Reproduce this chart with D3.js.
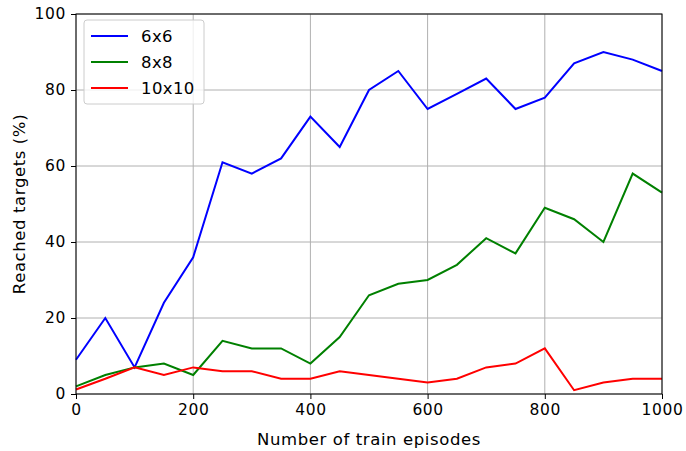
<!DOCTYPE html>
<html>
<head>
<meta charset="utf-8">
<script src="https://cdn.jsdelivr.net/npm/d3@7"></script>
<style>
body { margin: 0; background: #fff; }
svg { font-family: "DejaVu Sans", sans-serif; }
</style>
</head>
<body>
<svg></svg>
<script>
var episodes = [0, 50, 100, 150, 200, 250, 300, 350, 400, 450, 500, 550, 600, 650, 700, 750, 800, 850, 900, 950, 1000];
var grid6 = [9, 20, 7, 24, 36, 61, 58, 62, 73, 65, 80, 85, 75, 79, 83, 75, 78, 87, 90, 88, 85];
var grid8 = [2, 5, 7, 8, 5, 14, 12, 12, 8, 15, 26, 29, 30, 34, 41, 37, 49, 46, 40, 58, 53];
var grid10 = [1.2, 4, 7, 5, 7, 6, 6, 4, 4, 6, 5, 4, 3, 4, 7, 8, 12, 1, 3, 4, 4];
var seriesNames = ["6x6", "8x8", "10x10"];
var xTicks = [0, 200, 400, 600, 800, 1000];
var yTicks = [0, 20, 40, 60, 80, 100];

var screen = {width: 686, height: 451};
var margins = {top: 14, right: 24, bottom: 57, left: 76};
var width = screen.width - margins.left - margins.right;
var height = screen.height - margins.top - margins.bottom;

var series = [
    {name: seriesNames[0], values: grid6, color: "#0000ff"},
    {name: seriesNames[1], values: grid8, color: "#008000"},
    {name: seriesNames[2], values: grid10, color: "#ff0000"}
];

var svg = d3.select("svg")
    .attr("width", screen.width)
    .attr("height", screen.height);

var g = svg.append("g")
    .attr("transform", "translate(" + margins.left + "," + margins.top + ")");

var xScale = d3.scaleLinear().domain([0, 1000]).range([0, width]);
var yScale = d3.scaleLinear().domain([0, 100]).range([height, 0]);

// grid
g.append("g").selectAll("line")
    .data(xTicks)
    .enter().append("line")
    .attr("x1", function(d){ return xScale(d); })
    .attr("x2", function(d){ return xScale(d); })
    .attr("y1", 0).attr("y2", height)
    .attr("stroke", "#b0b0b0").attr("stroke-width", 1);
g.append("g").selectAll("line")
    .data(yTicks)
    .enter().append("line")
    .attr("y1", function(d){ return yScale(d); })
    .attr("y2", function(d){ return yScale(d); })
    .attr("x1", 0).attr("x2", width)
    .attr("stroke", "#b0b0b0").attr("stroke-width", 1);

var lineGenerator = d3.line()
    .x(function(d, i){ return xScale(episodes[i]); })
    .y(function(d){ return yScale(d); });

g.append("g").selectAll("path")
    .data(series)
    .enter().append("path")
    .attr("fill", "none")
    .attr("stroke", function(s){ return s.color; })
    .attr("stroke-width", 2)
    .attr("stroke-linejoin", "miter")
    .attr("d", function(s){ return lineGenerator(s.values); });

// frame
g.append("rect")
    .attr("x", 0).attr("y", 0)
    .attr("width", width).attr("height", height)
    .attr("fill", "none").attr("stroke", "#000").attr("stroke-width", 1);

var xAxis = d3.axisBottom(xScale).tickValues(xTicks).tickSize(5).tickPadding(5).tickFormat(d3.format("d"));
var yAxis = d3.axisLeft(yScale).tickValues(yTicks).tickSize(5).tickPadding(5).tickFormat(d3.format("d"));

var xg = g.append("g")
    .attr("transform", "translate(0," + height + ")")
    .call(xAxis);
var yg = g.append("g").call(yAxis);

[xg, yg].forEach(function(a){
    a.select(".domain").remove();
    a.selectAll("text").attr("font-size", 15.5).attr("letter-spacing", 0.6)
        .attr("font-family", "DejaVu Sans").attr("fill", "#000");
    a.selectAll("line").attr("stroke", "#000");
});

svg.append("text")
    .attr("x", margins.left + width / 2)
    .attr("y", 445)
    .attr("text-anchor", "middle")
    .attr("font-size", 16.5)
    .attr("letter-spacing", 0.6)
    .text("Number of train episodes");

svg.append("text")
    .attr("transform", "translate(25," + (margins.top + height / 2) + ") rotate(-90)")
    .attr("text-anchor", "middle")
    .attr("font-size", 16.5)
    .attr("letter-spacing", 0.6)
    .text("Reached targets (%)");

// legend
var legend = g.append("g").attr("transform", "translate(8,6)");
legend.append("rect")
    .attr("width", 120).attr("height", 84)
    .attr("rx", 3)
    .attr("fill", "#fff").attr("fill-opacity", 0.8)
    .attr("stroke", "#cccccc");
var items = legend.selectAll("g.item")
    .data(series)
    .enter().append("g")
    .attr("transform", function(s, i){ return "translate(0," + (16 + i * 26) + ")"; });
items.append("line")
    .attr("x1", 7).attr("x2", 44)
    .attr("stroke", function(s){ return s.color; })
    .attr("stroke-width", 2);
items.append("text")
    .attr("x", 57).attr("y", 6)
    .attr("font-size", 16.5)
    .attr("letter-spacing", 0.4)
    .text(function(s){ return s.name; });
</script>
</body>
</html>
